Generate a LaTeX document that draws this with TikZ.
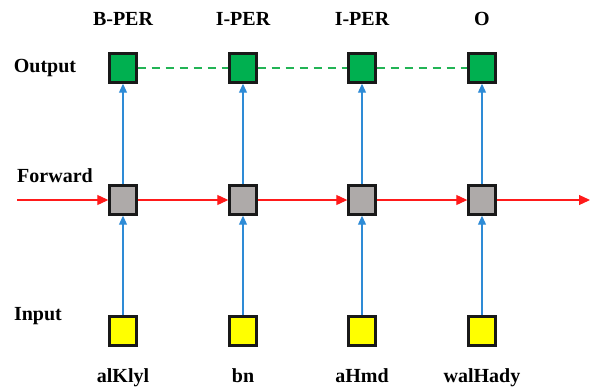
\documentclass[tikz,border=0pt]{standalone}
\usepackage{fontspec}
\setmainfont{Liberation Serif}
\usetikzlibrary{arrows.meta,positioning}
\definecolor{outgreen}{HTML}{00B050}
\definecolor{fwdgray}{HTML}{AEAAA9}
\definecolor{inyellow}{HTML}{FFFF00}
\definecolor{linkblue}{HTML}{2E8BD6}
\definecolor{chainred}{HTML}{FF1A1A}
\definecolor{dashgreen}{HTML}{22B455}
\begin{document}
\begin{tikzpicture}[x=1pt,y=-1pt,font=\fontsize{20}{23}\selectfont\bfseries,
  box/.style={draw=black!90,line width=2.4pt,minimum width=27pt,minimum height=29pt,inner sep=0pt},
  up/.style={-{Triangle[length=9pt,width=8pt]},linkblue,line width=1.1pt},
  flow/.style={-{Triangle[length=11pt,width=10pt]},chainred,line width=1.1pt},
  link/.style={dashgreen,line width=1.8pt,dash pattern=on 8pt off 6pt},
  lbl/.style={anchor=base,inner sep=0pt}]
\useasboundingbox (0,0) rectangle (593,391);
% columns of the chain
\foreach \i/\x/\tag/\word in {1/123/B-PER/alKlyl,2/243/I-PER/bn,3/362/I-PER/aHmd,4/482/O/walHady}{
  \node[box,fill=outgreen] (o\i) at (\x,68) {};
  \node[box,fill=fwdgray] (f\i) at (\x,200) {};
  \node[box,fill=inyellow] (in\i) at (\x,331) {};
  \node[lbl] (t\i) at (\x,25) {\tag};
  \node[lbl] (w\i) at (\x,382) {\word};
  \draw[up] (in\i) -- (f\i);
  \draw[up] (f\i) -- (o\i);
}
% row labels
\node[lbl] (outlbl) at (45,72) {Output};
\node[lbl] (fwdlbl) at (55,182) {Forward};
\node[lbl] (inlbl) at (38,320) {Input};
% forward chain
\coordinate (start) at (17,200);
\coordinate (end) at (590,200);
\draw[flow] (start) -- (f1);
\foreach \s/\t in {f1/f2,f2/f3,f3/f4}\draw[flow] (\s) -- (\t);
\draw[flow] (f4) -- (end);
\foreach \s/\t in {o1/o2,o2/o3,o3/o4}\draw[link] (\s) -- (\t);
\end{tikzpicture}
\end{document}
